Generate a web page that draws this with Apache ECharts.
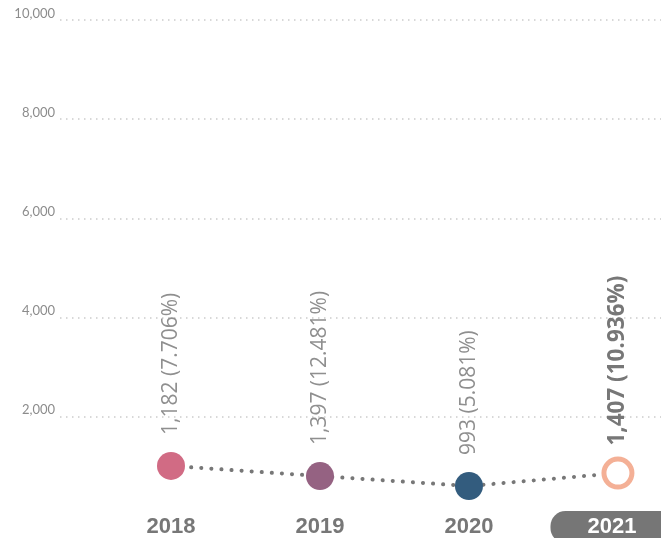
<!DOCTYPE html>
<html>
<head>
<meta charset="utf-8">
<script src="https://cdn.jsdelivr.net/npm/echarts@6/dist/echarts.min.js"></script>
<style>
html,body{margin:0;padding:0;background:#fff;}
#chart{width:661px;height:538px;}
</style>
</head>
<body>
<div id="chart"></div>
<script>
// Data
const years = [2018, 2019, 2020, 2021];
const values = [1010, 805, 605, 865];           // plotted positions
const labels = ['1,182 (7.706%)', '1,397 (12.481%)', '993 (5.081%)', '1,407 (10.936%)'];
const colors = ['#D16B84', '#956282', '#335C7E', '#F4B096'];
const yTicks = [0, 2000, 4000, 6000, 8000, 10000];

const highlightYear = 2021;

const chart = echarts.init(document.getElementById('chart'));

const seriesData = years.map((y, i) => {
  const isHL = y === highlightYear;
  return {
    value: [y, values[i]],
    symbolSize: 28,
    itemStyle: isHL
      ? { color: '#ffffff', borderColor: colors[i], borderWidth: 5 }
      : { color: colors[i], borderWidth: 0 },
    label: {
      formatter: labels[i],
      distance: isHL ? 11 : 17,
      fontSize: isHL ? 22.5 : 21,
      fontWeight: isHL ? 'bold' : 'normal',
      color: isHL ? '#777777' : '#8f8f8f'
    }
  };
});

chart.setOption({
  animation: false,
  grid: { left: 60, right: 0, top: 20, bottom: 22, containLabel: false, outerBoundsMode: 'none' },
  xAxis: {
    type: 'value',
    min: 2017.255,
    max: 2021.289,
    axisLine: { show: false },
    axisTick: { show: false },
    splitLine: { show: false },
    axisLabel: {
      customValues: years,
      margin: 1,
      hideOverlap: false,
      formatter: function (v) {
        return v === highlightYear ? '{hl|' + v + '}' : '{n|' + v + '}';
      },
      rich: {
        n: {
          fontFamily: 'Liberation Sans, Arial, sans-serif',
          fontWeight: 'bold', fontSize: 22, color: '#777777',
          lineHeight: 20, padding: [5, 0, 5, 0]
        },
        hl: {
          fontFamily: 'Liberation Sans, Arial, sans-serif',
          fontWeight: 'bold', fontSize: 22, color: '#ffffff',
          lineHeight: 20, padding: [5, 49, 5, 37],
          backgroundColor: '#767676', borderRadius: 15
        }
      }
    }
  },
  yAxis: {
    type: 'value',
    min: yTicks[0],
    max: yTicks[yTicks.length - 1],
    interval: 2000,
    axisLine: { show: false },
    axisTick: { show: false },
    axisLabel: {
      margin: 5,
      fontSize: 13,
      color: '#8c8c8c',
      fontFamily: 'Lato, Liberation Sans, sans-serif',
      verticalAlign: 'bottom',
      formatter: function (v) { return v === 0 ? '' : v.toLocaleString('en-US'); }
    },
    splitLine: {
      show: true,
      showMinLine: false,
      lineStyle: { color: '#cccccc', width: 1.5, type: [1.5, 4.5] }
    }
  },
  series: [{
    type: 'line',
    data: seriesData,
    symbol: 'circle',
    z: 3,
    lineStyle: { color: '#777777', width: 4, type: [0.1, 10], cap: 'round' },
    label: {
      show: true,
      position: 'top',
      rotate: 90,
      align: 'left',
      verticalAlign: 'middle',
      fontFamily: '"Open Sans", sans-serif'
    }
  }]
});
</script>
</body>
</html>
